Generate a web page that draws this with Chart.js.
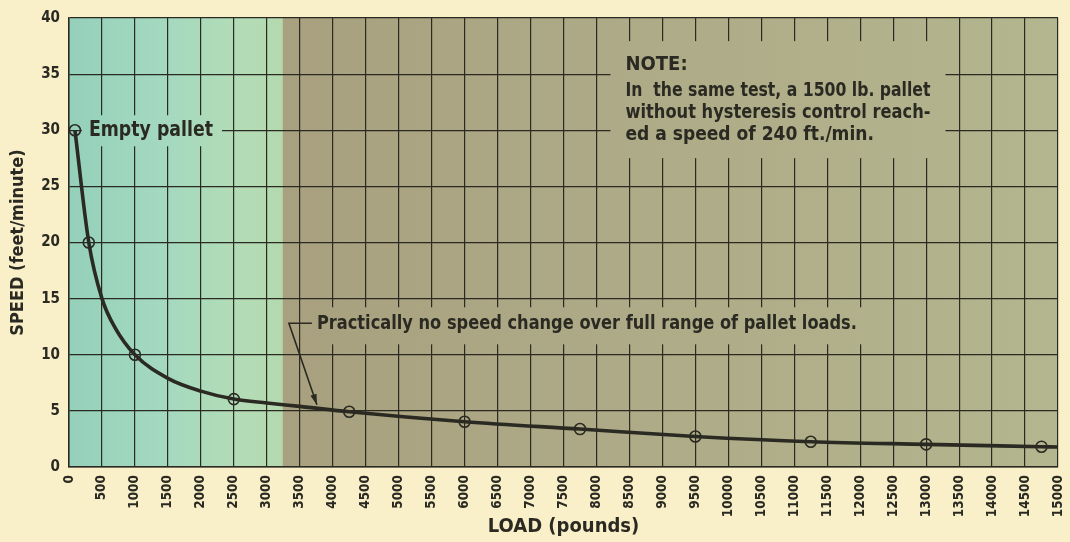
<!DOCTYPE html>
<html>
<head>
<meta charset="utf-8">
<script src="https://cdn.jsdelivr.net/npm/chart.js@4.4.1/dist/chart.umd.min.js"></script>
<style>
  html, body { margin: 0; padding: 0; background: #f9efc8; }
  #wrap { width: 1070px; height: 542px; }
</style>
</head>
<body>
<div id="wrap"><canvas id="speedChart" width="1070" height="542"></canvas></div>
<script>
// marked test points (load in pounds, speed in ft/min)
var markerLoads = [90, 300, 1000, 2500, 4250, 6000, 7750, 9500, 11250, 13000, 14750];
var markerSpeeds = [30, 20, 10, 6.05, 4.92, 4.03, 3.38, 2.72, 2.25, 2.02, 1.81];

// values
var curveLoads = [90, 300, 500, 700, 1000, 1500, 2000, 2500, 3000, 3500, 4250, 6000, 7750, 9500, 11250, 13000, 14750, 15000];
var curveSpeeds = [30, 20, 15, 12.4, 10, 7.9, 6.76, 6.05, 5.7, 5.4, 4.92, 4.03, 3.38, 2.72, 2.25, 2.02, 1.81, 1.78];

var loadTicks = [0, 15000, 500];   // min, max, step
var speedTicks = [0, 40, 5];

var inkColor = '#2a2a22';
var boldNarrow = '"Liberation Sans Narrow", "DejaVu Sans Condensed", "Roboto Condensed", sans-serif';

function toPoints(xs, ys) {
  var pts = [];
  for (var i = 0; i < xs.length; i++) {
    pts.push({ x: xs[i], y: ys[i] });
  }
  return pts;
}

var areaFill = null;

var backgroundPlugin = {
  id: 'paperBackground',
  beforeDraw: function (chart) {
    var ctx = chart.ctx;
    var area = chart.chartArea;
    var xScale = chart.scales.x;
    ctx.save();
    ctx.fillStyle = '#f9efc8';
    ctx.fillRect(0, 0, chart.width, chart.height);

    var split = (xScale.getPixelForValue(3250) - area.left) / (area.right - area.left);
    areaFill = ctx.createLinearGradient(area.left, 0, area.right, 0);
    areaFill.addColorStop(0, '#95d0bb');
    areaFill.addColorStop(split * 0.45, '#a4d9bf');
    areaFill.addColorStop(split * 0.8, '#b3dcb6');
    areaFill.addColorStop(split - 0.001, '#b4d9af');
    areaFill.addColorStop(split, '#a8a07e');
    areaFill.addColorStop(0.55, '#aeaa87');
    areaFill.addColorStop(1, '#b3b68e');
    ctx.fillStyle = areaFill;
    ctx.fillRect(area.left, area.top, area.right - area.left, area.bottom - area.top);
    ctx.restore();
  }
};

var notesPlugin = {
  id: 'notes',
  beforeDatasetsDraw: function (chart) {
    var ctx = chart.ctx;
    var xs = chart.scales.x;
    var ys = chart.scales.y;
    ctx.save();

    // masks that hide the grid behind the labels
    ctx.fillStyle = areaFill;
    var ex = xs.getPixelForValue(90);
    var ey = ys.getPixelForValue(30);
    ctx.fillRect(ex + 7, ey - 15, 140, 31);
    var px = xs.getPixelForValue(3760);
    var py = ys.getPixelForValue(12.8);
    ctx.fillRect(px - 16, py - 16, 566, 37);
    var nx = xs.getPixelForValue(8440);
    var ny = ys.getPixelForValue(35.8);
    ctx.fillRect(nx - 15, ny - 24, 335, 117);

    ctx.fillStyle = inkColor;
    ctx.strokeStyle = inkColor;
    ctx.textBaseline = 'middle';
    ctx.textAlign = 'left';

    ctx.font = 'bold 21px ' + boldNarrow;
    ctx.fillText('Empty pallet', ex + 14, ey, 124);

    ctx.font = 'bold 20px ' + boldNarrow;
    ctx.fillText('Practically no speed change over full range of pallet loads.', px, py, 540);

    // leader and arrow
    var tipX = xs.getPixelForValue(3760);
    var tipY = ys.getPixelForValue(5.55);
    var cornerX = px - 28;
    ctx.lineWidth = 1.6;
    ctx.beginPath();
    ctx.moveTo(px - 5, py);
    ctx.lineTo(cornerX, py);
    ctx.lineTo(tipX, tipY);
    ctx.stroke();
    var ang = Math.atan2(tipY - py, tipX - cornerX);
    ctx.beginPath();
    ctx.moveTo(tipX, tipY);
    ctx.lineTo(tipX - 11 * Math.cos(ang - 0.3), tipY - 11 * Math.sin(ang - 0.3));
    ctx.lineTo(tipX - 11 * Math.cos(ang + 0.3), tipY - 11 * Math.sin(ang + 0.3));
    ctx.closePath();
    ctx.fill();

    ctx.font = 'bold 20px ' + boldNarrow;
    ctx.fillText('NOTE:', nx, ny, 72);
    ctx.font = 'bold 19px ' + boldNarrow;
    ctx.fillText('In  the same test, a 1500 lb. pallet', nx, ny + 26, 305);
    ctx.fillText('without hysteresis control reach-', nx, ny + 48, 305);
    ctx.fillText('ed a speed of 240 ft./min.', nx, ny + 70, 250);
    ctx.restore();
  }
};

var ctx = document.getElementById('speedChart');
var speedChart = new Chart(ctx, {
  type: 'scatter',
  data: {
    datasets: [
      {
        label: 'curve',
        data: toPoints(curveLoads, curveSpeeds),
        showLine: true,
        borderColor: inkColor,
        borderWidth: 3.6,
        cubicInterpolationMode: 'monotone',
        pointRadius: 0,
        pointHoverRadius: 0
      },
      {
        label: 'test points',
        data: toPoints(markerLoads, markerSpeeds),
        showLine: false,
        pointRadius: 5.5,
        pointBorderWidth: 1.6,
        pointBorderColor: inkColor,
        pointBackgroundColor: 'rgba(0,0,0,0)'
      }
    ]
  },
  plugins: [backgroundPlugin, notesPlugin],
  options: {
    responsive: false,
    animation: false,
    events: [],
    layout: { padding: { top: 9, right: 12, left: 0, bottom: 0 } },
    plugins: {
      legend: { display: false },
      tooltip: { enabled: false }
    },
    scales: {
      x: {
        type: 'linear',
        min: loadTicks[0],
        max: loadTicks[1],
        afterFit: function (scale) {
          scale.height = 75;
          scale.paddingLeft = 0;
          scale.paddingRight = 0;
        },
        border: { display: true, color: inkColor, width: 1.5 },
        grid: { color: inkColor, lineWidth: 1.2, drawTicks: false },
        ticks: {
          stepSize: loadTicks[2],
          autoSkip: false,
          minRotation: 90,
          maxRotation: 90,
          padding: 8,
          color: inkColor,
          font: { family: boldNarrow, weight: 'bold', size: 13.5 },
          callback: function (value) { return String(value); }
        },
        title: {
          display: true,
          text: 'LOAD (pounds)',
          color: inkColor,
          padding: { top: 0, bottom: 3 },
          font: { family: boldNarrow, weight: 'bold', size: 20 }
        }
      },
      y: {
        type: 'linear',
        min: speedTicks[0],
        max: speedTicks[1],
        afterFit: function (scale) { scale.width = 69; },
        border: { display: true, color: inkColor, width: 1.5 },
        grid: { color: inkColor, lineWidth: 1.2, drawTicks: false },
        ticks: {
          stepSize: speedTicks[2],
          padding: 9,
          color: inkColor,
          font: { family: boldNarrow, weight: 'bold', size: 15 }
        },
        title: {
          display: true,
          text: 'SPEED (feet/minute)',
          color: inkColor,
          padding: { top: 8, bottom: 0 },
          font: { family: boldNarrow, weight: 'bold', size: 18 }
        }
      }
    }
  }
});
</script>
</body>
</html>
